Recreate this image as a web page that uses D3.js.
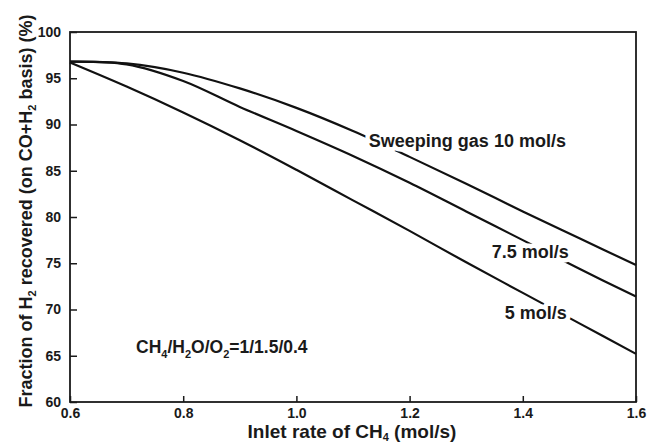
<!DOCTYPE html>
<html>
<head>
<meta charset="utf-8">
<script src="https://cdn.jsdelivr.net/npm/d3@7"></script>
<style>
  body { margin: 0; background: #fff; }
  svg text { font-family: "Liberation Sans", Arial, sans-serif; font-weight: bold; fill: #1a1a1a; }
</style>
</head>
<body>
<div id="chart"></div>
<script>
// inlet rate of CH4 (mol/s)
const inletRate = [0.6, 0.7, 0.8, 0.9, 1.0, 1.1, 1.2, 1.3, 1.4, 1.5, 1.6];
// fraction of H2 recovered (%) for each sweeping gas rate
const sweep10 = [96.8, 96.6, 95.6, 93.9, 91.8, 89.3, 86.5, 83.6, 80.6, 77.7, 74.8];
const sweep75 = [96.8, 96.5, 94.7, 91.9, 89.3, 86.6, 83.7, 80.6, 77.5, 74.4, 71.4];
const sweep5  = [96.7, 94.1, 91.3, 88.3, 85.1, 81.8, 78.5, 75.1, 71.8, 68.5, 65.2];
const xTicks = [0.6, 0.8, 1.0, 1.2, 1.4, 1.6];
const yTicks = [60, 65, 70, 75, 80, 85, 90, 95, 100];

const W = 651, H = 445;
const margin = { top: 32, right: 15, bottom: 43, left: 70 };

const svg = d3.select("#chart").append("svg")
    .attr("width", W)
    .attr("height", H);

const x = d3.scaleLinear().domain([0.6, 1.6]).range([margin.left, W - margin.right]);
const y = d3.scaleLinear().domain([60, 100]).range([H - margin.bottom, margin.top]);

// frame
svg.append("rect")
    .attr("x", x(0.6)).attr("y", y(100))
    .attr("width", x(1.6) - x(0.6)).attr("height", y(60) - y(100))
    .attr("fill", "none").attr("stroke", "#1a1a1a").attr("stroke-width", 1.8);

// axes with inward ticks
const xAxis = svg.append("g")
    .attr("transform", `translate(0,${y(60)})`)
    .call(d3.axisBottom(x).tickValues(xTicks).tickFormat(d3.format(".1f")).tickSizeInner(-6).tickSizeOuter(0).tickPadding(6));
const yAxis = svg.append("g")
    .attr("transform", `translate(${x(0.6)},0)`)
    .call(d3.axisLeft(y).tickValues(yTicks).tickSizeInner(-7).tickSizeOuter(0).tickPadding(9));

[xAxis, yAxis].forEach(a => {
    a.select(".domain").remove();
    a.selectAll(".tick line").attr("stroke", "#1a1a1a").attr("stroke-width", 1.5);
    a.selectAll(".tick text").style("font-size", "14px").attr("fill", "#1a1a1a");
});

// curves
const series = [sweep10, sweep75, sweep5];
const line = d3.line()
    .x((d, i) => x(inletRate[i]))
    .y(d => y(d))
    .curve(d3.curveCatmullRom);

svg.selectAll(".curve")
    .data(series)
    .enter()
    .append("path")
    .attr("class", "curve")
    .attr("d", line)
    .attr("fill", "none")
    .attr("stroke", "#111")
    .attr("stroke-width", 2.2);

// curve labels (white halo cuts the lines)
function label(txt, xv, yv) {
    svg.append("text")
        .attr("x", x(xv)).attr("y", y(yv))
        .style("font-size", "18px")
        .attr("stroke", "#fff").attr("stroke-width", 9)
        .attr("paint-order", "stroke")
        .attr("stroke-linejoin", "round")
        .text(txt);
}
label("Sweeping gas 10 mol/s", 1.128, 87.6);
label("7.5 mol/s", 1.345, 75.6);
label("5 mol/s", 1.368, 69.0);

// feed ratio annotation
const ann = svg.append("text")
    .attr("x", 136).attr("y", 353)
    .style("font-size", "17.5px");
ann.append("tspan").text("CH");
ann.append("tspan").attr("dy", 5).style("font-size", "11px").text("4");
ann.append("tspan").attr("dy", -5).text("/H");
ann.append("tspan").attr("dy", 5).style("font-size", "11px").text("2");
ann.append("tspan").attr("dy", -5).text("O/O");
ann.append("tspan").attr("dy", 5).style("font-size", "11px").text("2");
ann.append("tspan").attr("dy", -5).text("=1/1.5/0.4");

// x axis title
const xt = svg.append("text")
    .attr("x", 352).attr("y", 438)
    .attr("text-anchor", "middle")
    .style("font-size", "19px");
xt.append("tspan").text("Inlet rate of CH");
xt.append("tspan").attr("dy", 3).style("font-size", "11px").text("4");
xt.append("tspan").attr("dy", -3).text(" (mol/s)");

// y axis title
const yt = svg.append("text")
    .attr("transform", "translate(32,211) rotate(-90)")
    .attr("text-anchor", "middle")
    .style("font-size", "18px");
yt.append("tspan").text("Fraction of H");
yt.append("tspan").attr("dy", 4).style("font-size", "11px").text("2");
yt.append("tspan").attr("dy", -4).text(" recovered (on CO+H");
yt.append("tspan").attr("dy", 4).style("font-size", "11px").text("2");
yt.append("tspan").attr("dy", -4).text(" basis) (%)");
</script>
</body>
</html>
